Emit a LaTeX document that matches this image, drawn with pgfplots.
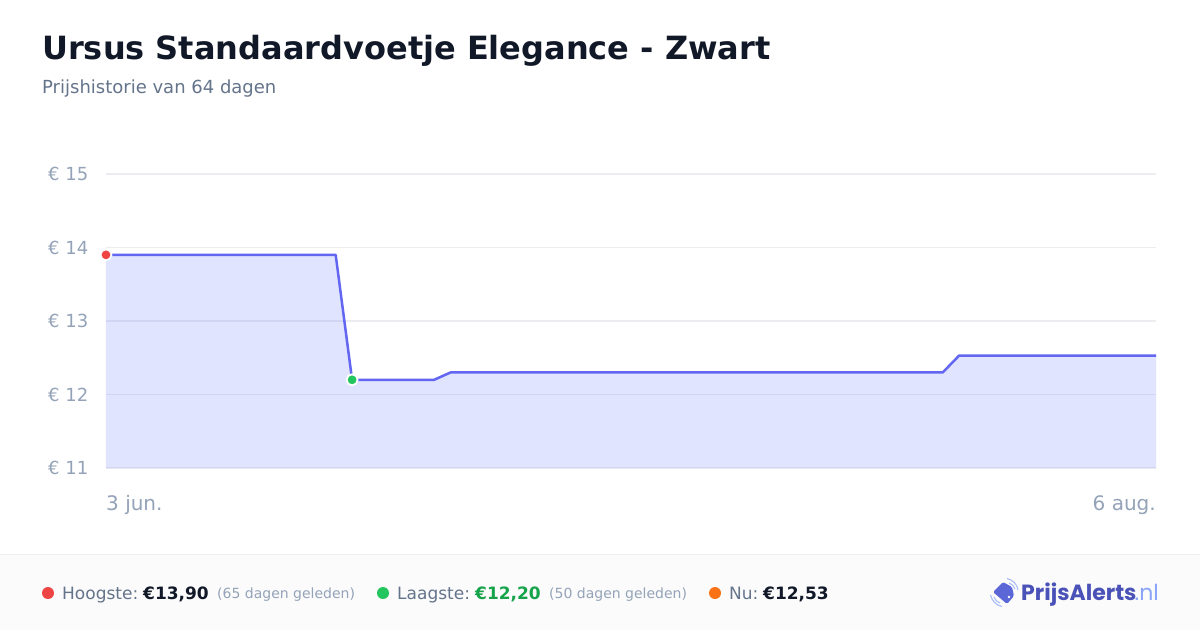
\documentclass[border=0pt]{standalone}
\usepackage{fontspec}
\setmainfont{DejaVu Sans}
\newfontfamily\logofont{Poppins}
\usepackage{pgfplots}
\pgfplotsset{compat=1.18}
\usepackage{pgfplotstable}

\definecolor{lijn}{HTML}{6366F1}
\definecolor{vlak}{HTML}{6478FF}
\definecolor{raster}{HTML}{EBEDF0}
\definecolor{astekst}{HTML}{94A3B8}
\definecolor{titel}{HTML}{111827}
\definecolor{sub}{HTML}{64748B}
\definecolor{rood}{HTML}{EF4444}
\definecolor{groen}{HTML}{22C55E}
\definecolor{groentekst}{HTML}{16A34A}
\definecolor{oranje}{HTML}{F97316}
\definecolor{voet}{HTML}{FBFBFB}
\definecolor{voetlijn}{HTML}{F1F1F3}
\definecolor{logo}{HTML}{4A52B8}
\definecolor{logotag}{HTML}{5B67D6}
\definecolor{logolicht}{HTML}{A3B8FA}
\definecolor{logonl}{HTML}{8AA4F8}

% dag, prijs
\pgfplotstableread{
x y
0 13.90
14 13.90
15 12.20
20 12.20
21 12.30
51 12.30
52 12.53
64 12.53
}\prijs

\newcommand{\fs}[1]{\fontsize{#1}{#1}\selectfont}

\begin{document}
\begin{tikzpicture}[x=1pt,y=-1pt]
\path[use as bounding box,fill=white] (0,0) rectangle (1200,630);
\fill[voet] (0,555) rectangle (1200,630);
\draw[voetlijn,line width=1pt] (0,554.5) -- (1200,554.5);

\node[anchor=base west,inner sep=0,text=titel] at (42,59) {\fs{32}\bfseries Ursus Standaardvoetje Elegance - Zwart};
\node[anchor=base west,inner sep=0,text=sub] at (42,93) {\fs{18}Prijshistorie van 64 dagen};

\begin{axis}[
    at={(106pt,-468pt)},
    anchor=south west,
    scale only axis,
    width=1050pt,
    height=294pt,
    xmin=0, xmax=64,
    ymin=11, ymax=15,
    clip=false,
    axis line style={draw=none},
    tick style={draw=none},
    ytick={11,12,13,14,15},
    ymajorgrids,
    grid style={raster,line width=1.2pt},
    yticklabel={€ \pgfmathprintnumber{\tick}},
    /pgf/number format/assume math mode=true,
    yticklabel style={font=\fs{18},text=astekst,anchor=east,inner sep=0,xshift=-17.5pt},
    xtick={0},
    xticklabels={3 jun.},
    xticklabel style={font=\fs{20},text=astekst,anchor=base west,inner sep=0,yshift=-42pt},
    extra x ticks={64},
    extra x tick labels={6 aug.},
    extra x tick style={xticklabel style={anchor=base east},grid=none},
]
\addplot[draw=none,fill=vlak,fill opacity=0.2] table {\prijs} \closedcycle;
\addplot[lijn,line width=2.5pt,line join=round] table {\prijs};
\addplot[only marks,mark=*,mark size=5.5pt,mark options={fill=rood,draw=white,line width=1.8pt}] coordinates {(0,13.90)};
\addplot[only marks,mark=*,mark size=5.5pt,mark options={fill=groen,draw=white,line width=1.8pt}] coordinates {(15,12.20)};
\end{axis}

% voettekst
\fill[rood] (48,593) circle (6);
\node[anchor=base west,inner sep=0,text=sub] at (62,599) {\fs{17}Hoogste:};
\node[anchor=base west,inner sep=0,text=titel] at (143,599) {\fs{17}\bfseries €13,90};
\node[anchor=base west,inner sep=0,text=astekst] at (217,598) {\fs{14}(65 dagen geleden)};
\fill[groen] (383,593) circle (6);
\node[anchor=base west,inner sep=0,text=sub] at (397,599) {\fs{17}Laagste:};
\node[anchor=base west,inner sep=0,text=groentekst] at (475,599) {\fs{17}\bfseries €12,20};
\node[anchor=base west,inner sep=0,text=astekst] at (549,598) {\fs{14}(50 dagen geleden)};
\fill[oranje] (715,593) circle (6);
\node[anchor=base west,inner sep=0,text=sub] at (729,599) {\fs{17}Nu:};
\node[anchor=base west,inner sep=0,text=titel] at (763,599) {\fs{17}\bfseries €12,53};

% logo
\fill[logotag,rounded corners=1.5pt] (1003,582) -- (1012,587) -- (1014,596) -- (1007,604) -- (993,592) -- cycle;
\fill[white] (1009,597) circle (1.3);
\draw[logolicht,line width=1pt] (1007,578.5) .. controls (1013,580) and (1017,584) .. (1018,590);
\draw[logolicht,line width=1pt] (1009,583) .. controls (1012,584) and (1014,586) .. (1015,589);
\draw[logolicht,line width=1pt] (990.5,595) .. controls (992,601) and (996,605) .. (1002,606.5);
\draw[logolicht,line width=1pt] (994,597) .. controls (995,600) and (997,602) .. (1000,603);
\node[anchor=base west,inner sep=0,text=logo] at (1021,600.5) {\fs{22}\logofont\bfseries PrijsAlerts};
\node[anchor=base east,inner sep=0,text=logonl] at (1159,600.5) {\fs{22}\logofont .nl};
\end{tikzpicture}
\end{document}
